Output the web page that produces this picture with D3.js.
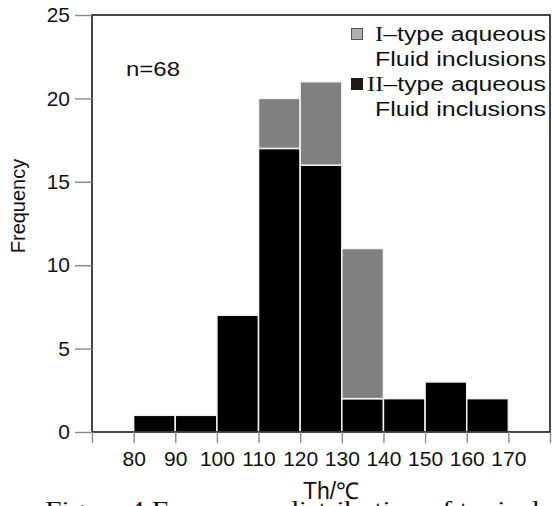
<!DOCTYPE html>
<html>
<head>
<meta charset="utf-8">
<script src="https://cdn.jsdelivr.net/npm/d3@7"></script>
<style>
  body { margin: 0; background: #fff; }
  svg { display: block; }
</style>
</head>
<body>
<svg id="chart" width="552" height="506"></svg>
<script>
// histogram bins (lower edge, 10 degree width)
const binStarts = [80, 90, 100, 110, 120, 130, 140, 150, 160];
const typeII = [1, 1, 7, 17, 16, 2, 2, 3, 2];
const typeI = [0, 0, 0, 3, 5, 9, 0, 0, 0];
const xTicks = [70, 80, 90, 100, 110, 120, 130, 140, 150, 160, 170, 180];
const xTickLabels = ['', '80', '90', '100', '110', '120', '130', '140', '150', '160', '170', ''];
const yTicks = [0, 5, 10, 15, 20, 25];
const sampleCount = 'n=68';

const svg = d3.select('#chart');
const font = 'Liberation Sans, Arial, sans-serif';
const serif = 'Liberation Serif, Times New Roman, serif';

const plotLeft = 92, plotRight = 550, plotTop = 15, plotBottom = 432;

const x = d3.scaleLinear().domain([70, 180]).range([plotLeft, plotRight]);
const y = d3.scaleLinear().domain([0, 25]).range([plotBottom, plotTop]);

const rows = binStarts.map((b, i) => ({ bin: b, II: typeII[i], I: typeI[i] }));
const stacked = d3.stack().keys(['II', 'I'])(rows);
const fills = { II: '#000000', I: '#808080' };

// bars
svg.append('g')
    .selectAll('g')
    .data(stacked)
    .enter()
    .append('g')
    .attr('fill', d => fills[d.key])
    .selectAll('rect')
    .data(d => d.filter(s => s[1] > s[0]))
    .enter()
    .append('rect')
    .attr('x', d => x(d.data.bin))
    .attr('width', d => x(d.data.bin + 10) - x(d.data.bin))
    .attr('y', d => y(d[1]))
    .attr('height', d => y(d[0]) - y(d[1]))
    .attr('stroke', '#f4f4f4')
    .attr('stroke-width', 1.5);

// frame
svg.append('rect')
    .attr('x', plotLeft)
    .attr('y', plotTop)
    .attr('width', plotRight - plotLeft)
    .attr('height', plotBottom - plotTop)
    .attr('fill', 'none')
    .attr('stroke', '#1a1a1a')
    .attr('stroke-width', 1.6);

// y axis
const yAxis = svg.append('g')
    .attr('transform', 'translate(' + plotLeft + ',0)')
    .call(d3.axisLeft(y).tickValues(yTicks).tickSize(17).tickPadding(5));
yAxis.select('.domain').remove();
yAxis.selectAll('line').attr('stroke', '#8a8a8a').attr('stroke-width', 1.4);
yAxis.selectAll('text')
    .style('font-family', font)
    .style('font-size', '21px')
    .attr('fill', '#111');

// x axis
const xAxis = svg.append('g')
    .attr('transform', 'translate(0,' + plotBottom + ')')
    .call(d3.axisBottom(x).tickValues(xTicks).tickSize(11).tickPadding(8)
        .tickFormat((d, i) => xTickLabels[i]));
xAxis.select('.domain').remove();
xAxis.selectAll('line').attr('stroke', '#8a8a8a').attr('stroke-width', 1.4);
xAxis.selectAll('text')
    .style('font-family', font)
    .style('font-size', '21px')
    .attr('fill', '#111');

// axis titles
svg.append('text')
    .attr('transform', 'translate(25,206) rotate(-90)')
    .attr('text-anchor', 'middle')
    .style('font-family', font)
    .style('font-size', '20px')
    .attr('fill', '#111')
    .text('Frequency');

svg.append('text')
    .attr('x', 331)
    .attr('y', 499)
    .attr('text-anchor', 'middle')
    .style('font-family', font)
    .style('font-size', '23px')
    .attr('fill', '#111')
    .text('Th/℃');

svg.append('text')
    .attr('x', 126)
    .attr('y', 76)
    .attr('textLength', 54)
    .attr('lengthAdjust', 'spacingAndGlyphs')
    .style('font-family', font)
    .style('font-size', '21px')
    .attr('fill', '#111')
    .text(sampleCount);

// legend
const legend = [
    { roman: 'I', rest: '–type aqueous', fill: '#b0b0b0', stroke: '#555', y0: 28, tx: 375 },
    { roman: 'II', rest: '–type aqueous', fill: '#231815', stroke: '#231815', y0: 78, tx: 367 }
];
const legendRight = 546;
legend.forEach(d => {
    svg.append('rect')
        .attr('x', 351.5)
        .attr('y', d.y0 + 0.5)
        .attr('width', 11)
        .attr('height', 11)
        .attr('fill', d.fill)
        .attr('stroke', d.stroke)
        .attr('stroke-width', 1);
    const t = svg.append('text')
        .attr('x', d.tx)
        .attr('y', d.y0 + 13)
        .attr('textLength', legendRight - d.tx)
        .attr('lengthAdjust', 'spacingAndGlyphs')
        .style('font-family', font)
        .style('font-size', '20px')
        .attr('fill', '#111');
    t.append('tspan').style('font-family', serif).text(d.roman);
    t.append('tspan').text(d.rest);
    svg.append('text')
        .attr('x', 375)
        .attr('y', d.y0 + 38)
        .attr('textLength', legendRight - 375)
        .attr('lengthAdjust', 'spacingAndGlyphs')
        .style('font-family', font)
        .style('font-size', '20px')
        .attr('fill', '#111')
        .text('Fluid inclusions');
});

// caption, cut off by the page edge
svg.append('text')
    .attr('x', 45)
    .attr('y', 517)
    .attr('textLength', 495)
    .attr('lengthAdjust', 'spacingAndGlyphs')
    .style('font-family', serif)
    .style('font-size', '24px')
    .attr('fill', '#111')
    .text('Figure 4 Frequency distribution of typical');
</script>
</body>
</html>
